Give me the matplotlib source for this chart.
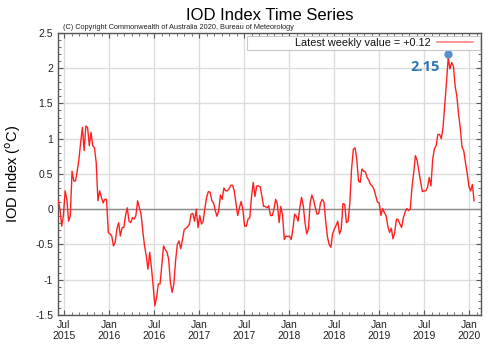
import numpy as np
import pandas as pd
import matplotlib
matplotlib.use("Agg")
import matplotlib.pyplot as plt
import matplotlib.dates as mdates
from matplotlib.patches import Rectangle
from matplotlib.lines import Line2D

plt.rcParams['font.family'] = ['Liberation Sans', 'DejaVu Sans']

# weekly IOD index values, starting early June 2015
iod_2015_16 = [0.12, 0.00, -0.24, -0.09, 0.26, 0.14, -0.17, -0.09, 0.54, 0.40,
               0.40, 0.54, 0.71, 0.95, 1.16, 0.83, 1.18, 1.16, 0.90, 1.09,
               0.90, 0.87, 0.66, 0.12, 0.26, 0.17, 0.09, 0.14, 0.14, -0.33,
               -0.35, -0.38, -0.52, -0.47, -0.28, -0.19, -0.38, -0.26, -0.26, -0.09,
               0.02, -0.17, -0.19, -0.12, -0.14, -0.09, 0.12, 0.02, -0.07, -0.31,
               -0.52, -0.66, -0.85, -0.61, -0.83, -1.09, -1.37, -1.25, -1.06, -1.06,
               -0.80, -0.52, -0.57]
iod_2016_17 = [-0.61, -0.71, -1.04, -1.18, -1.06, -0.73, -0.50, -0.45, -0.56, -0.43,
               -0.29, -0.27, -0.25, -0.21, -0.07, -0.06, -0.17, 0.00, -0.26, -0.09,
               -0.21, -0.17, 0.02, 0.17, 0.25, 0.24, 0.12, 0.09, -0.02, -0.10,
               -0.02, 0.20, 0.14, 0.30, 0.26, 0.26, 0.29, 0.34, 0.34, 0.26,
               0.09, -0.09, 0.02, 0.11, -0.01, -0.24, -0.24, -0.14, -0.12, 0.18,
               0.38, 0.18, 0.33, 0.33, 0.32, 0.19, 0.04, 0.04]
iod_2017_18 = [0.02, 0.05, -0.09, -0.09, 0.00, 0.14, 0.07, -0.19, 0.04, -0.09,
               -0.43, -0.38, -0.39, -0.38, -0.43, -0.28, -0.07, -0.10, -0.17, 0.02,
               0.17, 0.05, -0.19, -0.35, -0.28, 0.09, 0.20, 0.13, 0.02, -0.07,
               -0.06, 0.09, 0.14, 0.10, -0.17, -0.39, -0.50, -0.54, -0.35, -0.28,
               -0.23, -0.17, -0.35, -0.28, 0.08, 0.07, -0.19, -0.17, 0.09, 0.57,
               0.85, 0.87, 0.71, 0.40, 0.38, 0.57, 0.54, 0.53, 0.45, 0.41,
               0.35]
iod_2018_20 = [0.33, 0.28, 0.19, 0.10, 0.09, -0.09, 0.01, -0.05, -0.09, -0.24,
               -0.33, -0.27, -0.42, -0.33, -0.14, -0.15, -0.21, -0.26, -0.12, -0.04,
               0.01, -0.02, 0.00, 0.31, 0.52, 0.76, 0.69, 0.54, 0.39, 0.25,
               0.26, 0.26, 0.31, 0.45, 0.33, 0.71, 0.86, 0.90, 1.06, 1.06,
               1.00, 1.16, 1.47, 1.80, 2.15, 1.99, 2.08, 2.03, 1.75, 1.60,
               1.35, 1.15, 0.88, 0.83, 0.66, 0.51, 0.32, 0.26, 0.35, 0.12]

iod = iod_2015_16 + iod_2016_17 + iod_2017_18 + iod_2018_20
start_date = '2015-06-08'
x_start, x_end = '2015-06-07', '2020-02-17'
peak_label = '2.15'
latest_label = 'Latest weekly value = +0.12'

dates = pd.date_range(start_date, periods=len(iod), freq='7D')
s = pd.Series(iod, index=dates)

fig = plt.figure(figsize=(5, 3.5), dpi=100)
ax = fig.add_axes([0.116, 0.1, 0.846, 0.806])

ax.axhline(0, color='#8c8c8c', lw=1.0, zorder=1)
ax.plot(s.index, s.values, color='#ff2020', lw=1.0, zorder=3)

# peak marker
pk = s.idxmax()
ax.plot([pk], [s.max() + 0.05], 'o', ms=5, color='#5b8fc9', zorder=4)
ax.annotate(peak_label, (pk, s.max()), xytext=(-17, -7), textcoords='offset points',
            ha='center', va='center', fontsize=10.5, fontweight='bold',
            color='#2e75b6', family=['Open Sans', 'DejaVu Sans'])

ax.set_xlim(pd.Timestamp(x_start), pd.Timestamp(x_end))
ax.set_ylim(-1.5, 2.5)
ax.xaxis.set_major_locator(mdates.MonthLocator(bymonth=[1, 7]))
ax.xaxis.set_minor_locator(mdates.MonthLocator())
ax.xaxis.set_major_formatter(mdates.DateFormatter('%b\n%Y'))
ax.set_yticks(np.arange(-1.5, 2.51, 0.5))
ax.set_yticklabels(['-1.5', '-1', '-0.5', '0', '0.5', '1', '1.5', '2', '2.5'])
ax.set_yticks(np.arange(-1.5, 2.51, 0.1), minor=True)

ax.grid(True, which='major', color='#dcdcdc', lw=1.0, zorder=0)
ax.set_axisbelow(True)
ax.tick_params(which='both', direction='in', top=True, right=True,
               colors='#555555', labelcolor='#222222', labelsize=7.5)
ax.tick_params(which='major', length=3.5, width=0.8)
ax.tick_params(which='minor', length=2, width=0.6)
for sp in ax.spines.values():
    sp.set_color('#555555')
    sp.set_linewidth(1.0)

ax.set_ylabel('IOD Index ($^{\\mathrm{o}}$C)', fontsize=10.5)
ax.yaxis.set_label_coords(-0.082, 0.5)
fig.text(0.539, 0.955, 'IOD Index Time Series', ha='center', va='center', fontsize=12)
ax.text(0.012, 1.005, '(C) Copyright Commonwealth of Australia 2020, Bureau of Meteorology',
        transform=ax.transAxes, fontsize=5.3, ha='left', va='bottom', color='#222222')

# legend box drawn by hand, to match the wide box of the original
ax.add_patch(Rectangle((0.447, 0.940), 0.551, 0.049, transform=ax.transAxes,
                       facecolor='white', edgecolor='#c8c8c8', lw=0.8, zorder=5))
ax.text(0.882, 0.965, latest_label, transform=ax.transAxes, ha='right', va='center',
        fontsize=7.8, color='#111111', zorder=6)
ax.add_line(Line2D([0.896, 0.981], [0.966, 0.966], transform=ax.transAxes,
                   color='#ff8080', lw=1.2, zorder=6))

fig.savefig('out.png', dpi=100)
